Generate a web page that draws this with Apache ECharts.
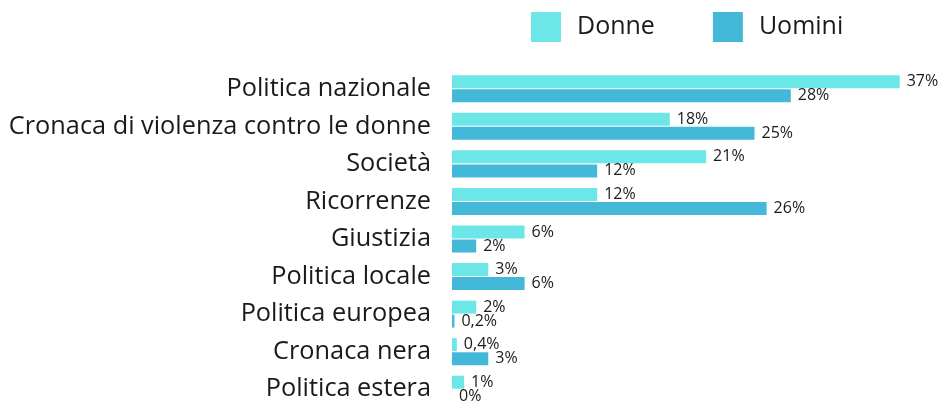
<!DOCTYPE html>
<html>
<head>
<meta charset="utf-8">
<script src="https://cdn.jsdelivr.net/npm/echarts@6/dist/echarts.min.js"></script>
<style>
  html, body { margin: 0; padding: 0; background: #fff; }
  #chart { width: 938px; height: 408px; }
</style>
</head>
<body>
<div id="chart"></div>
<script>
var categories = ['Politica nazionale', 'Cronaca di violenza contro le donne', 'Società', 'Ricorrenze',
  'Giustizia', 'Politica locale', 'Politica europea', 'Cronaca nera', 'Politica estera']
var donne = [37, 18, 21, 12, 6, 3, 2, 0.4, 1]
var uomini = [28, 25, 12, 26, 2, 6, 0.2, 3, 0]

var chart = echarts.init(document.getElementById('chart'))

function fmt(p) {
  return String(p.value).replace('.', ',') + '%'
}

chart.setOption({
  textStyle: { fontFamily: 'Open Sans' },
  animation: false,
  color: ['#6de6e8', '#44b8d8'],
  legend: {
    top: 7,
    left: 526,
    itemWidth: 30,
    itemHeight: 30,
    itemGap: 58,
    icon: 'rect',
    textStyle: { fontSize: 25, color: '#1a1a1a', padding: [0, 0, 0, 11] },
    data: ['Donne', 'Uomini']
  },
  grid: {
    left: 452,
    right: 2,
    top: 70,
    bottom: 0
  },
  xAxis: {
    type: 'value',
    min: 0,
    max: 40,
    show: false
  },
  yAxis: {
    type: 'category',
    inverse: true,
    data: categories,
    axisLine: { show: false },
    axisTick: { show: false },
    axisLabel: {
      margin: 21,
      fontSize: 25.3,
      color: '#1a1a1a'
    }
  },
  series: [
    {
      name: 'Donne',
      type: 'bar',
      data: donne,
      barWidth: 13,
      barGap: '8%',
      label: {
        show: true,
        position: 'right',
        distance: 7,
        fontSize: 16,
        color: '#1a1a1a',
        formatter: fmt
      }
    },
    {
      name: 'Uomini',
      type: 'bar',
      data: uomini,
      barWidth: 13,
      barGap: '8%',
      label: {
        show: true,
        position: 'right',
        distance: 7,
        fontSize: 16,
        color: '#1a1a1a',
        formatter: fmt
      }
    }
  ]
})
</script>
</body>
</html>
